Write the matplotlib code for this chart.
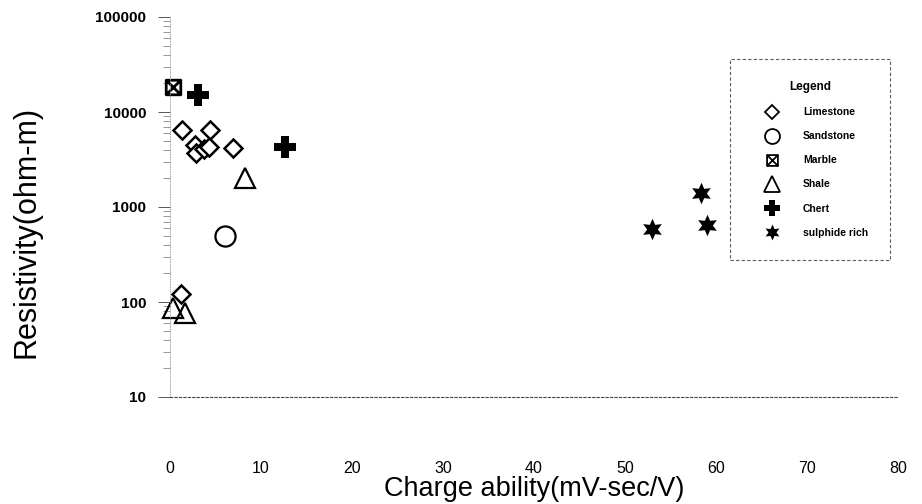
import matplotlib
matplotlib.use("Agg")
import matplotlib.pyplot as plt
from matplotlib.path import Path
from matplotlib.ticker import LogLocator, NullFormatter, FixedLocator

plt.rcParams['font.family'] = ['Liberation Sans', 'DejaVu Sans']

# Charge ability (mV-sec/V) and resistivity (ohm-m) per rock type
limestone_x = [1.3, 4.4, 6.9, 2.8, 2.9, 3.7, 4.3, 1.2]
limestone_y = [6400, 6500, 4150, 4500, 3700, 4100, 4300, 120]

sandstone_x = [6.0]
sandstone_y = [500]

marble_x = [0.35]
marble_y = [18500]

shale_x = [0.35, 1.7, 8.2]
shale_y = [86, 77, 2000]

chert_x = [3.1, 12.6]
chert_y = [15000, 4300]

sulphide_x = [53.0, 58.3, 59.0]
sulphide_y = [590, 1390, 650]

x_ticks = [0, 10, 20, 30, 40, 50, 60, 70, 80]
y_ticks = [10, 100, 1000, 10000, 100000]
y_tick_labels = ["10", "100", "1000", "10000", "100000"]

# square with a cross inside
boxed_x = Path(
    [(-1, -1), (1, -1), (1, 1), (-1, 1), (-1, -1), (-1, -1), (1, 1), (-1, 1), (1, -1)],
    [Path.MOVETO, Path.LINETO, Path.LINETO, Path.LINETO, Path.CLOSEPOLY,
     Path.MOVETO, Path.LINETO, Path.MOVETO, Path.LINETO],
)

fig = plt.figure(figsize=(9.22, 5.04), dpi=100)
ax = fig.add_axes([170 / 922, 1 - 397 / 504, 728 / 922, 380 / 504])

common = dict(linestyle='none', color='black', clip_on=False)
ax.plot(limestone_x, limestone_y, marker='D', ms=9.2, mfc='white', mew=1.8,
        label='Limestone', **common)
ax.plot(sandstone_x, sandstone_y, marker='o', ms=14.5, mfc='white', mew=1.6,
        label='Sandstone', **common)
ax.plot(marble_x, marble_y, marker=boxed_x, ms=10.5, mfc='none', mew=2.0,
        label='Marble', **common)
ax.plot(shale_x, shale_y, marker='^', ms=15, mfc='none', mew=1.6,
        label='Shale', **common)
ax.plot(chert_x, chert_y, marker='P', ms=16, mfc='black', mew=0,
        label='Chert', **common)
ax.plot(sulphide_x, sulphide_y, marker=(6, 1, 0), ms=15.5, mfc='black', mew=0,
        label='sulphide rich', **common)

ax.set_xlim(0, 80)
ax.set_yscale('log')
ax.set_ylim(10, 100000)

ax.xaxis.set_major_locator(FixedLocator(x_ticks))
ax.set_xticklabels([str(v) for v in x_ticks])
ax.yaxis.set_major_locator(FixedLocator(y_ticks))
ax.set_yticklabels(y_tick_labels)
ax.yaxis.set_minor_locator(LogLocator(base=10, subs=range(2, 10)))
ax.yaxis.set_minor_formatter(NullFormatter())

ax.tick_params(axis='x', length=0, pad=46, labelsize=11.5)
ax.tick_params(axis='y', which='major', length=9, width=0.7, color='#555555',
               pad=8, labelsize=11)
ax.tick_params(axis='y', which='minor', length=5, width=0.6, color='#888888')
for lab in ax.get_yticklabels():
    lab.set_fontweight('bold')

for side in ('top', 'right'):
    ax.spines[side].set_visible(False)
ax.spines['bottom'].set_linestyle((0, (2, 2)))
ax.spines['bottom'].set_color('#444444')
ax.spines['bottom'].set_linewidth(0.8)
ax.spines['left'].set_linestyle((0, (1, 2)))
ax.spines['left'].set_color('#999999')
ax.spines['left'].set_linewidth(0.6)

ax.set_xlabel('Charge ability(mV-sec/V)', fontsize=19.5, labelpad=0)
ax.set_ylabel('Resistivity(ohm-m)', fontsize=22)
ax.yaxis.set_label_coords(-0.176, 0.434)

leg = ax.legend(loc='upper left', bbox_to_anchor=(730 / 922, 1 - 59 / 504),
                bbox_transform=fig.transFigure, borderaxespad=0,
                title='Legend', title_fontproperties={'weight': 'bold', 'size': 8.5},
                prop={'weight': 'bold', 'size': 7.5},
                markerscale=0.74, borderpad=2.13, handlelength=3.8,
                handletextpad=1.06, labelspacing=1.35, fancybox=False,
                alignment='center')
for handle in leg.legend_handles:
    if handle.get_markerfacecolor() != 'black':
        handle.set_markeredgewidth(1.3)
frame = leg.get_frame()
frame.set_edgecolor('#333333')
frame.set_linewidth(0.8)
frame.set_linestyle((0, (3, 2)))

fig.savefig('out.png', dpi=100)
